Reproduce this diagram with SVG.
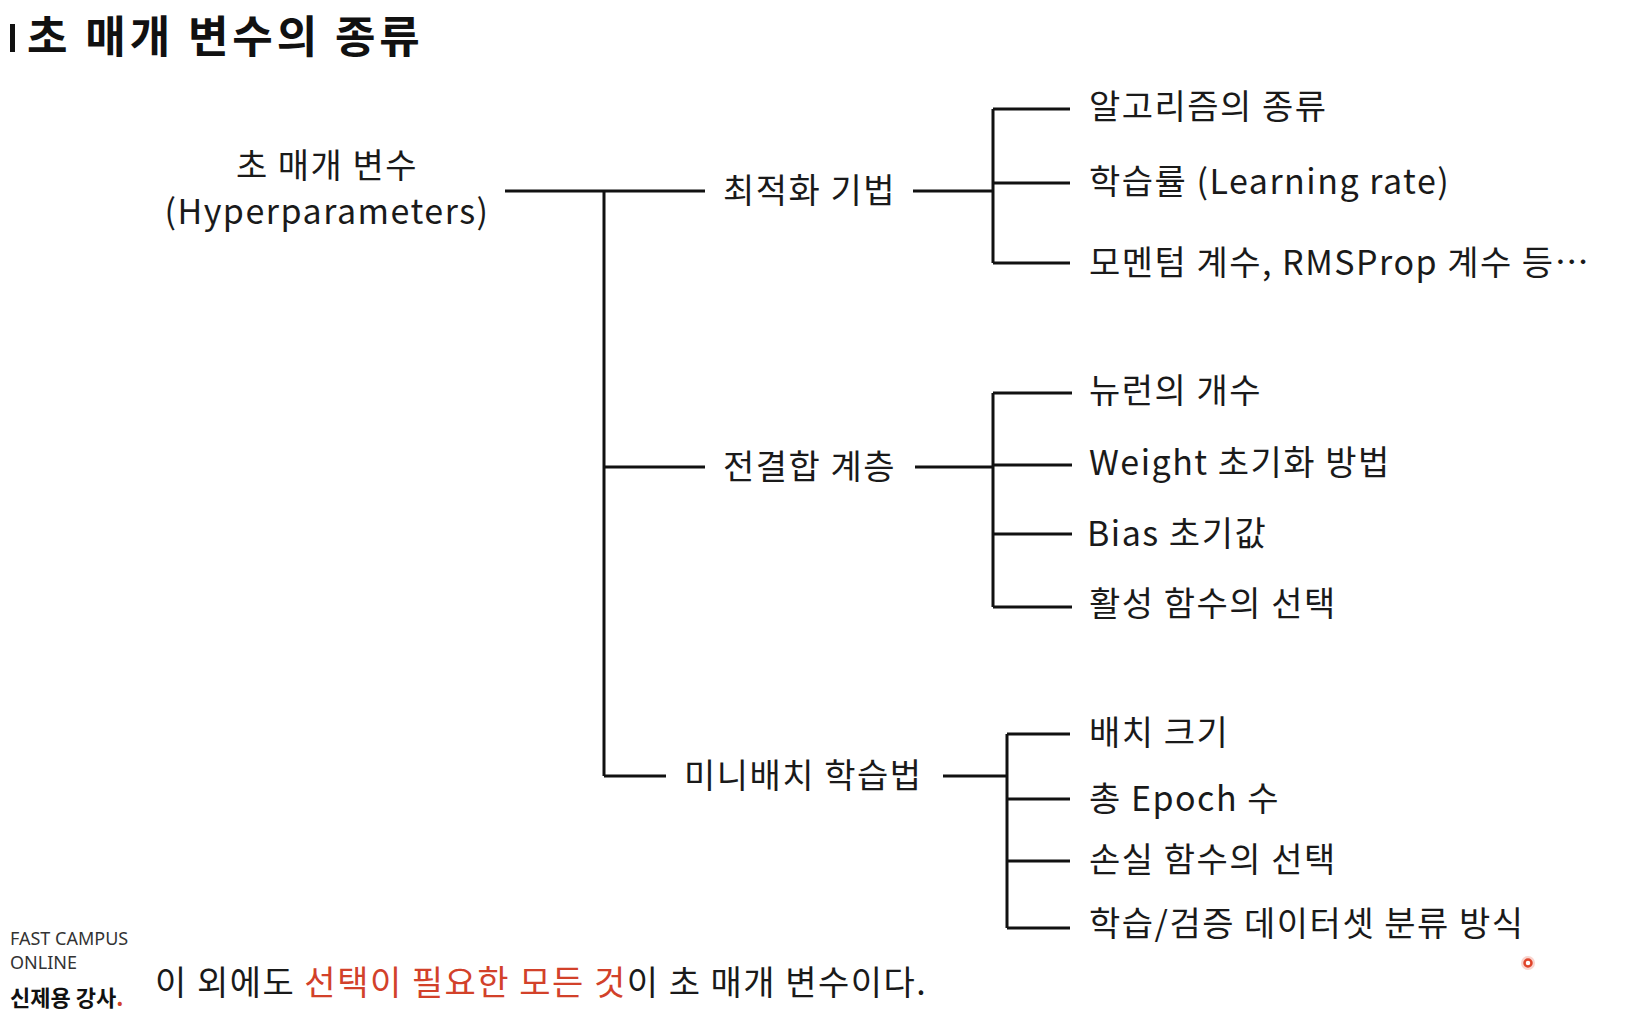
<svg xmlns="http://www.w3.org/2000/svg" width="1642" height="1024" viewBox="0 0 1642 1024">
<style>
.t{font-family:"Noto Sans CJK KR","Noto Sans",sans-serif;fill:#1a1a1a;font-size:34px;letter-spacing:1.5px}
.c{stroke:#111;stroke-width:3;fill:none;stroke-linecap:butt}
.red{fill:#d2412a}
</style>
<rect width="1642" height="1024" fill="#ffffff"/>
<g id="title">
<rect x="10" y="24" width="5" height="28" fill="#111"/>
<text x="27" y="53" font-family="Noto Sans CJK KR, sans-serif" font-weight="bold" font-size="44" letter-spacing="3.9" fill="#111">초 매개 변수의 종류</text>
</g>
<g id="connectors">
<path class="c" d="M505 191H705M604 191V776M604 467H705M604 776H666"/>
<path class="c" d="M913 191H993M993 109V263M993 109H1070M993 183H1070M993 263H1070"/>
<path class="c" d="M915 467H993M993 393V607M993 393H1072M993 465H1072M993 534H1072M993 607H1072"/>
<path class="c" d="M943 776H1007M1007 734V928M1007 734H1070M1007 799H1070M1007 861H1070M1007 928H1070"/>
</g>
<g id="root">
<text class="t" x="327" y="178" text-anchor="middle">초 매개 변수</text>
<text class="t" x="327" y="224" text-anchor="middle">(Hyperparameters)</text>
</g>
<g id="opt"><text class="t" x="723" y="203">최적화 기법</text></g>
<g id="fc"><text class="t" x="723" y="479">전결합 계층</text></g>
<g id="mb"><text class="t" x="684" y="788" letter-spacing="2">미니배치 학습법</text></g>
<g id="o1"><text class="t" x="1089" y="119">알고리즘의 종류</text></g>
<g id="o2"><text class="t" x="1089" y="194">학습률 (Learning rate)</text></g>
<g id="o3"><text class="t" x="1089" y="275">모멘텀 계수, RMSProp 계수 등…</text></g>
<g id="f1"><text class="t" x="1089" y="403">뉴런의 개수</text></g>
<g id="f2"><text class="t" x="1089" y="475">Weight 초기화 방법</text></g>
<g id="f3"><text class="t" x="1087" y="546">Bias 초기값</text></g>
<g id="f4"><text class="t" x="1089" y="616">활성 함수의 선택</text></g>
<g id="m1"><text class="t" x="1089" y="745">배치 크기</text></g>
<g id="m2"><text class="t" x="1089" y="811">총 Epoch 수</text></g>
<g id="m3"><text class="t" x="1089" y="872">손실 함수의 선택</text></g>
<g id="m4"><text class="t" x="1089" y="936">학습/검증 데이터셋 분류 방식</text></g>
<g id="footer">
<text x="10" y="945" font-family="Noto Sans, sans-serif" font-size="18" fill="#333">FAST CAMPUS</text>
<text x="10" y="969" font-family="Noto Sans, sans-serif" font-size="18" fill="#333">ONLINE</text>
<text x="10" y="1006" font-family="Noto Sans CJK KR, sans-serif" font-weight="bold" font-size="22" fill="#111">신제용 강사<tspan fill="#d2412a">.</tspan></text>
<text class="t" x="155" y="995" font-size="36" letter-spacing="2.1">이 외에도 <tspan class="red">선택이 필요한 모든 것</tspan>이 초 매개 변수이다.</text>
</g>
<circle cx="1528" cy="963" r="7" fill="#e8553a" opacity="0.25"/>
<circle cx="1528" cy="963" r="3.5" fill="#fff" stroke="#e0442a" stroke-width="2.5"/>
</svg>
